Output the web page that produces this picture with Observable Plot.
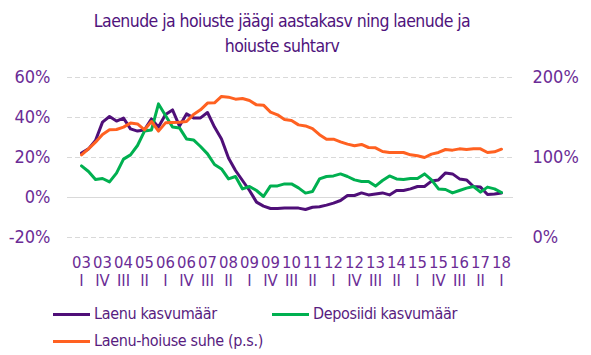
<!DOCTYPE html>
<html>
<head>
<meta charset="utf-8">
<script src="https://cdn.jsdelivr.net/npm/d3@7"></script>
<script src="https://cdn.jsdelivr.net/npm/@observablehq/plot@0.6"></script>
<style>
  html, body { margin: 0; padding: 0; background: #fff; }
  body { width: 591px; height: 355px; position: relative; overflow: hidden;
         font-family: "Liberation Sans Narrow", "DejaVu Sans Condensed", "Liberation Sans", sans-serif; }
  #title { position: absolute; top: 9px; left: 0; width: 564px; text-align: center;
           font-size: 17.5px; letter-spacing: -0.55px; line-height: 25px; color: #4F137C; }
  #chart { position: absolute; top: 60px; left: 0; }
  .leg { position: absolute; font-size: 16px; letter-spacing: -0.35px; color: #581C80; line-height: 20px; white-space: nowrap; }
  .leg .sw { position: absolute; left: -41px; top: 9px; width: 37px; height: 3px; }
</style>
</head>
<body>
<div id="title">Laenude ja hoiuste jäägi aastakasv ning laenude ja<br>hoiuste suhtarv</div>
<div id="chart"></div>
<div id="legend"></div>
<script>
// ---- Data ----
const periods = [
  "03 I","03 II","03 III","03 IV","04 I","04 II","04 III","04 IV",
  "05 I","05 II","05 III","05 IV","06 I","06 II","06 III","06 IV",
  "07 I","07 II","07 III","07 IV","08 I","08 II","08 III","08 IV",
  "09 I","09 II","09 III","09 IV","10 I","10 II","10 III","10 IV",
  "11 I","11 II","11 III","11 IV","12 I","12 II","12 III","12 IV",
  "13 I","13 II","13 III","13 IV","14 I","14 II","14 III","14 IV",
  "15 I","15 II","15 III","15 IV","16 I","16 II","16 III","16 IV",
  "17 I","17 II","17 III","17 IV","18 I"
];
const tickPeriods = ["03 I","03 IV","04 III","05 II","06 I","06 IV","07 III","08 II","09 I","09 IV",
  "10 III","11 II","12 I","12 IV","13 III","14 II","15 I","15 IV","16 III","17 II","18 I"];

// Laenu kasvumäär (%, left axis)
const loanGrowth = [22.2,24.3,28.5,37.7,40.5,38.2,39.7,34.3,33.2,33.8,
  39.3,35.2,41.5,43.8,35.7,41.8,39.8,39.8,42.5,35.2,
  29.3,19.7,13.5,8.5,3.5,-2.3,-4.3,-5.5,-5.5,-5.3,
  -5.2,-5.3,-6.0,-4.9,-4.6,-3.8,-2.8,-1.5,1.0,1.0,
  2.3,1.3,1.8,2.3,1.3,3.5,3.5,4.3,5.5,5.5,
  8.2,8.8,12.3,11.8,9.3,8.8,5.5,5.2,1.5,1.8,2.3];
// Deposiidi kasvumäär (%, left axis)
const depositGrowth = [15.8,13.0,9.0,9.5,7.8,12.2,19.2,21.3,26.0,33.2,
  33.8,46.8,41.0,35.2,34.8,29.3,28.8,25.5,21.8,16.5,
  14.3,9.3,10.5,4.3,5.5,3.5,0.5,5.8,5.8,6.8,
  6.8,4.8,2.2,3.0,9.3,10.5,10.8,11.8,10.5,8.8,
  8.0,8.0,5.7,8.5,10.8,9.3,9.0,9.5,9.5,11.8,
  8.8,4.3,4.0,2.3,3.5,4.7,5.5,2.7,5.2,4.3,2.5];
// Laenu-hoiuse suhe (%, right axis)
const loanDepositRatio = [103.3,110.8,119.2,128.8,134.6,135.0,138.0,143.0,142.0,134.6,
  145.0,133.0,143.3,143.8,144.2,145.0,153.8,159.6,168.0,168.3,
  176.3,175.4,172.9,173.8,171.3,165.8,165.4,156.7,153.3,147.5,
  146.3,140.8,139.5,136.0,128.5,122.9,122.9,119.6,116.7,114.6,
  116.3,112.5,112.1,107.5,106.3,106.3,106.3,103.3,102.1,100.0,
  104.2,106.3,110.0,109.2,110.8,110.0,110.8,110.8,106.3,107.1,110.4];

const leftTicks = [-20, 0, 20, 40, 60];
const rightTicks = [0, 100, 200];
const leftDomain = [-20, 60];
const rightDomain = [0, 200];

const seriesNames = ["Laenu kasvumäär", "Deposiidi kasvumäär", "Laenu-hoiuse suhe (p.s.)"];
const seriesColors = ["#4F0F78", "#00B050", "#FF6121"];

// ---- Helpers ----
const FONT = '"Liberation Sans Narrow", "DejaVu Sans Condensed", "Liberation Sans", sans-serif';
const LABEL = "#6B2C96";
const toLeft = r => leftDomain[0] + (r - rightDomain[0]) * (leftDomain[1] - leftDomain[0]) / (rightDomain[1] - rightDomain[0]);
const toRight = v => rightDomain[0] + (v - leftDomain[0]) * (rightDomain[1] - rightDomain[0]) / (leftDomain[1] - leftDomain[0]);

const data = periods.map((p, i) => ({
  period: p, loan: loanGrowth[i], deposit: depositGrowth[i], ratio: loanDepositRatio[i]
}));

const chart = Plot.plot({
  width: 591,
  height: 240,
  marginTop: 17,
  marginBottom: 63,
  marginLeft: 67,
  marginRight: 78,
  x: { type: "point", domain: periods, insetLeft: 3, insetRight: 2 },
  y: { domain: leftDomain },
  style: { fontFamily: FONT, fontSize: "16px", background: "transparent", overflow: "visible" },
  marks: [
    Plot.ruleY(leftTicks.filter(d => d !== 0), { stroke: "#D9D9D9", strokeWidth: 1, strokeDasharray: "5,3" }),
    Plot.ruleY([0], { stroke: "#D9D9D9", strokeWidth: 1.2 }),
    Plot.axisY(leftTicks, { anchor: "left", tickSize: 0, tickPadding: 17, label: null,
      tickFormat: d => d + "%", color: LABEL, fontSize: 18 }),
    Plot.axisY(rightTicks.map(toLeft), { anchor: "right", tickSize: 0, tickPadding: 19, label: null,
      tickFormat: d => Math.round(toRight(d)) + "%", color: LABEL, fontSize: 18 }),
    Plot.axisX(tickPeriods, { anchor: "bottom", tickSize: 0, tickPadding: 19, label: null,
      tickFormat: d => d.split(" ")[0], color: LABEL, fontSize: 16.5 }),
    Plot.axisX(tickPeriods, { anchor: "bottom", tickSize: 0, tickPadding: 37, label: null,
      tickFormat: d => d.split(" ")[1], color: LABEL, fontSize: 16.5 }),
    Plot.line(data, { x: "period", y: "loan", stroke: seriesColors[0], strokeWidth: 3, strokeLinejoin: "round" }),
    Plot.line(data, { x: "period", y: "deposit", stroke: seriesColors[1], strokeWidth: 3, strokeLinejoin: "round" }),
    Plot.line(data, { x: "period", y: d => toLeft(d.ratio), stroke: seriesColors[2], strokeWidth: 3, strokeLinejoin: "round" })
  ]
});
document.getElementById("chart").appendChild(chart);

// ---- Legend ----
const legendPos = [[94, 304], [313, 304], [94, 331]];
const legend = document.getElementById("legend");
seriesNames.forEach((name, i) => {
  const d = document.createElement("div");
  d.className = "leg";
  d.style.left = legendPos[i][0] + "px";
  d.style.top = legendPos[i][1] + "px";
  const sw = document.createElement("span");
  sw.className = "sw";
  sw.style.background = seriesColors[i];
  d.appendChild(sw);
  d.appendChild(document.createTextNode(name));
  legend.appendChild(d);
});
</script>
</body>
</html>
